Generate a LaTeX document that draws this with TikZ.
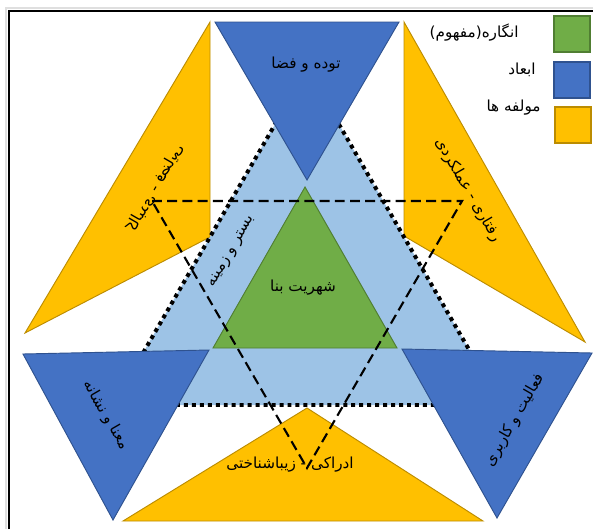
\documentclass[tikz,border=0pt]{standalone}
\usepackage{fontspec}
\newfontfamily\farsifont[Script=Arabic]{DejaVu Sans}
\TeXXeTstate=1
\newcommand{\rtl}[1]{\beginR #1\endR}
\definecolor{concept-fill}{HTML}{70AD47}
\definecolor{concept-border}{HTML}{507E32}
\definecolor{dim-fill}{HTML}{4472C4}
\definecolor{dim-border}{HTML}{2F528F}
\definecolor{comp-fill}{HTML}{FFC000}
\definecolor{comp-border}{HTML}{BC8C00}
\definecolor{context-fill}{HTML}{9DC3E6}
\tikzset{
  concept-shape/.style={draw=concept-border, fill=concept-fill, line width=0.8pt},
  dim-shape/.style={draw=dim-border, fill=dim-fill, line width=0.8pt},
  comp-shape/.style={draw=comp-border, fill=comp-fill, line width=0.8pt},
  context-shape/.style={fill=context-fill, draw=black, line width=3.4pt,
    dash pattern=on 3.4pt off 3.4pt},
  guide-line/.style={draw=black, line width=1.8pt, dash pattern=on 8.5pt off 4.5pt},
  fa-label/.style={font=\farsifont\fontsize{13}{15}\selectfont, inner sep=1pt},
  key-box/.style={line width=1.6pt, minimum size=30pt, inner sep=0pt}
}

\begin{document}
\begin{tikzpicture}[x=0.03cm, y=-0.03cm]
  \useasboundingbox (0,0) rectangle (593,529);

  % frame
  \draw[gray!25, line width=1pt] (6,529) -- (6,8) -- (593,8);
  \draw[line width=1.8pt] (9,529) -- (9,11) -- (593,11);

  % components
  \filldraw[comp-shape] (210,22) -- (210,237) -- (25,333) -- cycle;
  \filldraw[comp-shape] (404,22) -- (404,236) -- (585,342) -- cycle;
  \filldraw[comp-shape] (307,408) -- (483,521) -- (123,521) -- cycle;

  % context
  \filldraw[context-shape] (307,69) -- (501,405) -- (113,405) -- cycle;

  % dimensions
  \filldraw[dim-shape] (215,22) -- (399,22) -- (307,180) -- cycle;
  \filldraw[dim-shape] (23,354) -- (209,350) -- (113,520) -- cycle;
  \filldraw[dim-shape] (402,349) -- (592,353) -- (497,518) -- cycle;

  % concept
  \filldraw[concept-shape] (305,187) -- (397,348) -- (213,348) -- cycle;

  % guide triangle
  \draw[guide-line] (152,201) -- (462,201) -- (307,468) -- cycle;

  % labels
  \node[fa-label] (mass)     at (306,65)  {\rtl{توده و فضا}};
  \node[fa-label] (urban)    at (303,288) {\rtl{شهریت بنا}};
  \node[fa-label, rotate=60] (ground) at (232,252) {\rtl{بستر و زمینه}};
  \node[fa-label, rotate=60, xscale=-1] (body) at (155,188) {\rtl{کالبدی - فضایی}};
  \node[fa-label, rotate=-60] (act-comp) at (468,190) {\rtl{رفتاری - عملکردی}};
  \node[fa-label, rotate=-60] (meaning) at (106,415) {\rtl{معنا و نشانه}};
  \node[fa-label, rotate=60] (activity) at (515,420) {\rtl{فعالیت و کاربری}};
  \node[fa-label] (percept)  at (290,465) {\rtl{ادراکی - زیباشناختی}};

  % legend
  \node[key-box, draw=concept-border, fill=concept-fill] (key-concept) at (572,34) {};
  \node[key-box, draw=dim-border, fill=dim-fill] (key-dim) at (572,80) {};
  \node[key-box, draw=comp-border, fill=comp-fill] (key-comp) at (573,125) {};
  \node[fa-label, anchor=east] (txt-concept) at (520,33) {\rtl{انگاره(مفهوم)}};
  \node[fa-label, anchor=east] (txt-dim) at (537,70) {\rtl{ابعاد}};
  \node[fa-label, anchor=east] (txt-comp) at (542,108) {\rtl{مولفه ها}};
\end{tikzpicture}
\end{document}
